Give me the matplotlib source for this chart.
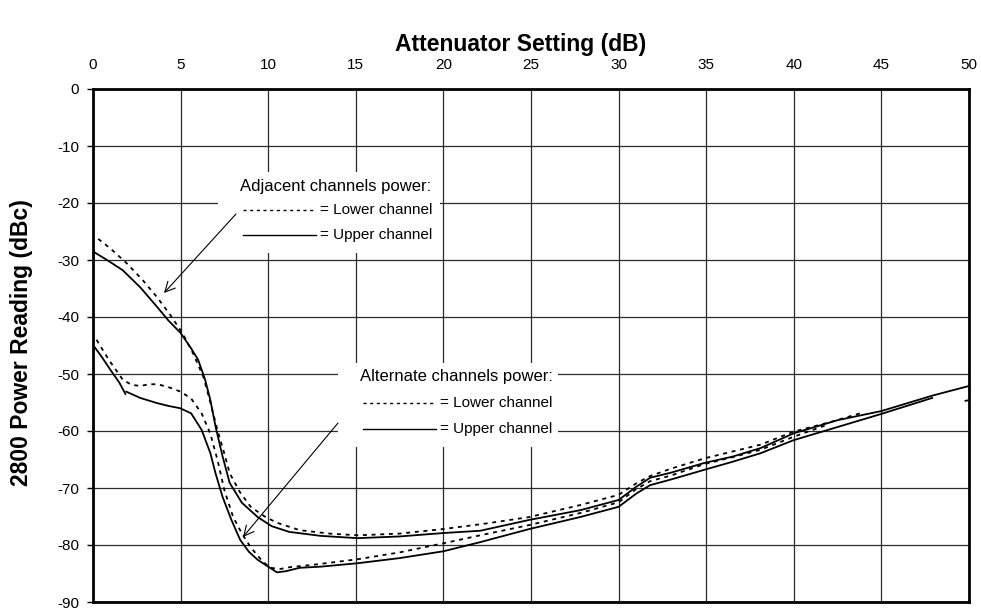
import matplotlib
matplotlib.use("Agg")
import matplotlib.pyplot as plt
from matplotlib.patches import Rectangle
from matplotlib.lines import Line2D

plt.rcParams['font.family'] = ['Liberation Sans', 'DejaVu Sans']

# ---- data ----
adj_lower_x = [0.3, 1.0, 1.9, 2.8, 3.65, 4.4, 5.1, 5.7, 6.3, 6.7, 7.1, 7.5, 7.8, 8.4, 9.0, 9.8, 10.5,
               11.8, 13.5, 15.1, 17.5, 20.0, 22.5, 24.9, 27.8, 30.0, 31.0, 31.8, 33.0,
               34.9, 36.5, 38.1, 40.0, 42.0, 43.9]
adj_lower_y = [-26.3, -28.0, -30.5, -33.4, -36.5, -39.6, -42.8, -46.3, -50.5, -55.0, -59.8, -64.0,
               -67.4, -70.8, -73.3, -75.0, -76.1, -77.4, -78.0, -78.3, -78.0, -77.2, -76.2,
               -75.1, -73.0, -71.2, -69.2, -67.9, -66.6, -64.8, -63.6, -62.4, -60.1, -58.5, -56.8]

adj_upper_x = [0.0, 0.8, 1.7, 2.7, 3.65, 4.3, 5.0, 5.6, 6.0, 6.4, 6.7, 7.0, 7.4, 7.8, 8.5, 9.4, 10.2,
               11.2, 13.0, 15.1, 17.5, 20.0, 22.1, 24.9, 27.8, 30.0, 31.0, 31.8, 33.0,
               34.9, 36.5, 38.1, 40.0, 42.5, 45.0, 47.9, 50.0]
adj_upper_y = [-28.5, -30.0, -31.8, -34.8, -38.2, -40.6, -42.8, -45.5, -47.5, -51.0, -54.6, -59.3,
               -64.5, -69.1, -72.6, -75.1, -76.7, -77.7, -78.4, -78.8, -78.5, -77.9, -77.5, -75.6,
               -73.9, -72.1, -69.8, -68.2, -67.3, -65.6, -64.5, -63.0, -60.4, -58.1, -56.5, -53.8, -52.1]

alt_lower_x = [0.2, 0.9, 1.7, 2.2, 2.7, 3.2, 3.7, 4.4, 5.0, 5.6, 6.2, 6.7, 7.1, 7.5, 8.0, 8.5,
               9.0, 9.6, 10.1, 10.7, 11.2, 12.5, 15.1, 17.5, 20.0, 22.1, 24.9, 27.8, 30.0,
               31.0, 31.8, 33.0, 34.9, 36.5, 38.1, 40.0, 42.0]
alt_lower_y = [-44.0, -47.5, -51.0, -51.9, -52.1, -51.8, -51.8, -52.4, -53.1, -54.3, -56.9, -60.5,
               -65.0, -70.4, -75.1, -78.0, -80.4, -82.6, -84.0, -84.2, -83.9, -83.5, -82.5,
               -81.3, -79.7, -78.3, -76.5, -74.4, -72.5, -70.2, -68.8, -67.8, -65.8, -64.6,
               -63.3, -61.0, -58.8]

alt_lower_tail_x = [49.8, 50.0]
alt_lower_tail_y = [-54.7, -54.6]

alt_upper_a_x = [0.0, 0.5, 1.0, 1.5, 1.85]
alt_upper_a_y = [-44.9, -47.0, -49.3, -51.5, -53.5]
alt_upper_b_x = [1.9, 2.7, 3.65, 4.3, 4.97, 5.6, 6.2, 6.7, 7.0, 7.4, 7.9, 8.4, 8.9, 9.4, 10.1,
                 10.5, 11.0, 11.8, 13.0, 15.1, 17.5, 20.0, 22.1, 24.9, 27.8, 30.0, 31.0, 31.8,
                 33.0, 34.9, 36.5, 38.1, 40.0, 42.5, 45.0, 47.9]
alt_upper_b_y = [-53.1, -54.2, -55.1, -55.6, -56.0, -56.9, -59.8, -63.9, -67.5, -71.6, -75.6,
                 -79.1, -81.2, -82.6, -84.0, -84.8, -84.6, -84.0, -83.8, -83.2, -82.3, -81.1,
                 -79.5, -77.2, -75.1, -73.3, -71.0, -69.5, -68.5, -66.8, -65.4, -63.9, -61.6,
                 -59.3, -57.0, -54.2]

x_ticks = [0, 5, 10, 15, 20, 25, 30, 35, 40, 45, 50]
y_ticks = [0, -10, -20, -30, -40, -50, -60, -70, -80, -90]

x_title = "Attenuator Setting (dB)"
y_title = "2800 Power Reading (dBc)"
adj_title = "Adjacent channels power:"
alt_title = "Alternate channels power:"
lower_label = "= Lower channel"
upper_label = "= Upper channel"

# ---- figure ----
W, H = 981, 609
fig = plt.figure(figsize=(W / 100, H / 100), dpi=100)
ax = fig.add_axes([93 / W, 1 - 602 / H, (969 - 93) / W, (602 - 89) / H])

ax.set_xlim(0, 50)
ax.set_ylim(-90, 0)
ax.set_xticks(x_ticks)
ax.set_yticks(y_ticks)
ax.set_xticklabels([str(v) for v in x_ticks])
ax.set_yticklabels([str(v) for v in y_ticks])
ax.xaxis.tick_top()
ax.tick_params(axis='x', length=0, pad=12, labelsize=11)
ax.tick_params(axis='y', length=4, width=1.0, direction='out', pad=6, labelsize=11)
ax.set_axisbelow(True)
ax.grid(True, color='#2a2a2a', linewidth=0.9)
for s in ax.spines.values():
    s.set_linewidth(2.0)
    s.set_color('black')

dash = (0, (2.2, 2.6))
lw = 1.3
ax.plot(adj_lower_x, adj_lower_y, color='black', lw=lw, ls=dash, zorder=3)
ax.plot(adj_upper_x, adj_upper_y, color='black', lw=lw, ls='-', zorder=3)
ax.plot(alt_lower_x, alt_lower_y, color='black', lw=lw, ls=dash, zorder=3)
ax.plot(alt_lower_tail_x, alt_lower_tail_y, color='black', lw=lw, ls='-', zorder=3)
ax.plot(alt_upper_a_x, alt_upper_a_y, color='black', lw=lw, ls='-', zorder=3)
ax.plot(alt_upper_b_x, alt_upper_b_y, color='black', lw=lw, ls='-', zorder=3)


def px2d(px, py):
    return (px - 93) / 17.52, -(py - 89) / 5.7


def white_box(x0, y0, x1, y1):
    (dx0, dy0), (dx1, dy1) = px2d(x0, y1), px2d(x1, y0)
    ax.add_patch(Rectangle((dx0, dy0), dx1 - dx0, dy1 - dy0, facecolor='white',
                           edgecolor='none', zorder=1))


def legend_block(x_text, y_title_px, x_line0, x_line1, y_dash_px, y_solid_px, x_lab, title):
    tx, ty = px2d(x_text, y_title_px)
    ax.text(tx, ty, title, fontsize=12, ha='left', va='center', zorder=4)
    for ypx, style, label in [(y_dash_px, dash, lower_label), (y_solid_px, '-', upper_label)]:
        a = px2d(x_line0, ypx)
        b = px2d(x_line1, ypx)
        ax.add_line(Line2D([a[0], b[0]], [a[1], b[1]], color='black', lw=1.0, ls=style, zorder=4))
        lx, ly = px2d(x_lab, ypx)
        ax.text(lx, ly, label, fontsize=11, ha='left', va='center', zorder=4)


white_box(218, 172, 440, 253)
white_box(338, 363, 558, 447)
legend_block(240, 187, 243, 316, 210, 235, 320, adj_title)
legend_block(360, 376, 363, 436, 403, 429, 440, alt_title)

arrow = dict(arrowstyle='->', color='black', lw=0.8, mutation_scale=18, shrinkA=0, shrinkB=0)
ax.annotate('', xy=px2d(164, 293), xytext=px2d(236, 214), arrowprops=arrow, zorder=4)
ax.annotate('', xy=px2d(243, 537), xytext=px2d(338, 423), arrowprops=arrow, zorder=4)

fig.text(521 / W, 1 - 45 / H, x_title, fontsize=16.5, fontweight='bold', ha='center', va='center')
fig.text(22 / W, 1 - 343 / H, y_title, fontsize=16.5, fontweight='bold', ha='center', va='center',
         rotation=90)

fig.savefig('out.png', dpi=100)
